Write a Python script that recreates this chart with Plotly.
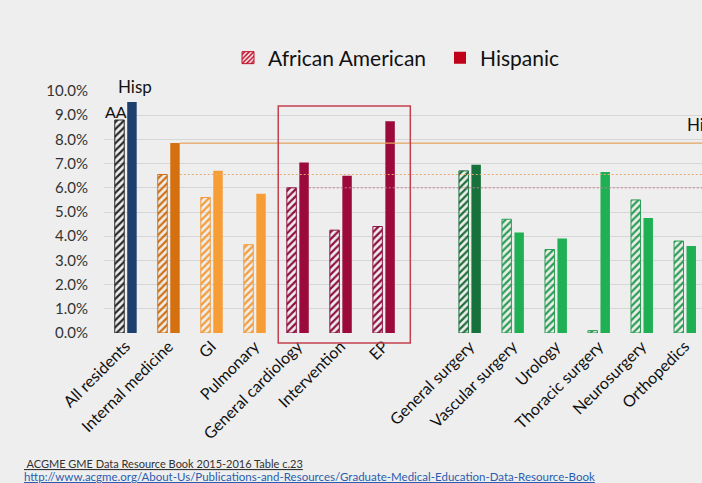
import plotly.graph_objects as go

categories = ["All residents", "Internal medicine", "GI", "Pulmonary", "General cardiology",
              "Intervention", "EP", " ", "General surgery", "Vascular surgery", "Urology",
              "Thoracic surgery", "Neurosurgery", "Orthopedics"]
aa_values = [8.8, 6.55, 5.6, 3.65, 6.0, 4.25, 4.4, None, 6.7, 4.7, 3.45, 0.1, 5.5, 3.8]
hisp_values = [9.55, 7.85, 6.7, 5.75, 7.05, 6.5, 8.75, None, 6.95, 4.15, 3.9, 6.65, 4.75, 3.6]
y_ticks = [0, 1, 2, 3, 4, 5, 6, 7, 8, 9, 10]
y_tick_labels = ["0.0%", "1.0%", "2.0%", "3.0%", "4.0%", "5.0%", "6.0%", "7.0%", "8.0%", "9.0%", "10.0%"]

hisp_colors = ["#1c3f6e", "#d4700f", "#f79d35", "#f79d35", "#9c0a3c", "#9c0a3c", "#9c0a3c",
               "#ffffff", "#16723a", "#1eb052", "#1eb052", "#1eb052", "#1eb052", "#1eb052"]
aa_fg = ["#2a2a2a", "#cf7013", "#f39c3a", "#f39c3a", "#8e1040", "#8e1040", "#8e1040",
         "#ffffff", "#1d6e3b", "#2c9e55", "#2c9e55", "#2c9e55", "#2c9e55", "#2c9e55"]

FONT = "Lato"
BG = "#eeeeee"

fig = go.Figure()
fig.add_trace(go.Bar(
    x=categories, y=aa_values, width=0.22, offset=-0.25, showlegend=False,
    marker=dict(color=aa_fg, line=dict(color=aa_fg, width=1),
                pattern=dict(shape="/", fillmode="replace", bgcolor="#fbfbfb", size=5, solidity=0.45)),
))
fig.add_trace(go.Bar(
    x=categories, y=hisp_values, width=0.22, offset=0.04, showlegend=False,
    marker=dict(color=hisp_colors, line=dict(width=0)),
))
# legend-only entries
fig.add_trace(go.Bar(
    x=[None], y=[None], name="African American",
    marker=dict(color="#c0102a", line=dict(color="#c0102a", width=1),
                pattern=dict(shape="/", fillmode="replace", bgcolor="#fdf3f3", size=4, solidity=0.5)),
))
fig.add_trace(go.Bar(
    x=[None], y=[None], name="Hispanic",
    marker=dict(color="#c00018", line=dict(width=0)),
))

# reference lines from data values
im = categories.index("Internal medicine")
gc = categories.index("General cardiology")
fig.add_shape(type="line", xref="x", yref="y", x0=im + 0.26, x1=14, y0=hisp_values[im], y1=hisp_values[im],
              line=dict(color="#e3a25e", width=1.2), layer="above")
fig.add_shape(type="line", xref="x", yref="y", x0=im + 0.26, x1=14, y0=aa_values[im], y1=aa_values[im],
              line=dict(color="#e6ad72", width=1, dash="2px,2px"), layer="above")
fig.add_shape(type="line", xref="x", yref="y", x0=gc + 0.26, x1=14, y0=aa_values[gc], y1=aa_values[gc],
              line=dict(color="#c77f96", width=1, dash="2px,2px"), layer="above")
# box around cardiology
ep = categories.index("EP")
fig.add_shape(type="rect", xref="x", yref="paper", x0=gc - 0.45, x1=ep + 0.62, y0=-0.041, y1=0.938,
              line=dict(color="#c4404c", width=1.5), fillcolor="rgba(0,0,0,0)", layer="above")

y_max = y_ticks[-1]
fig.add_annotation(x=categories[0], y=10.2 / y_max, xref="x", yref="paper", text="Hisp", showarrow=False,
                   xshift=9, yanchor="middle", font=dict(family=FONT, size=17, color="#111"))
fig.add_annotation(x=categories[0], y=9.15, xref="x", yref="y", text="AA", showarrow=False,
                   xshift=-10, yanchor="middle", font=dict(family=FONT, size=16, color="#111"))
fig.add_annotation(x=0.9716, y=0.86, xref="paper", yref="paper", text="Hisp", showarrow=False,
                   xanchor="left", yanchor="middle", font=dict(family=FONT, size=17, color="#111"))

W, H = 702, 483
L, R, T, B = 104, 0, 91, 150
pw, ph = W - L - R, H - T - B

fig.add_annotation(x=(22 - L) / pw, y=(H - B - 463) / ph, xref="paper", yref="paper",
                   text="<u> ACGME GME Data Resource Book 2015-2016 Table c.23</u>",
                   showarrow=False, xanchor="left", yanchor="middle",
                   font=dict(family=FONT, size=11, color="#333"))
fig.add_annotation(x=(22 - L) / pw, y=(H - B - 476.5) / ph, xref="paper", yref="paper",
                   text="<u>http://www.acgme.org/About-Us/Publications-and-Resources/Graduate-Medical-Education-Data-Resource-Book</u>",
                   showarrow=False, xanchor="left", yanchor="middle",
                   font=dict(family=FONT, size=11.5, color="#2a5db0"))

fig.update_layout(
    width=W, height=H, margin=dict(l=L, r=R, t=T, b=B),
    barmode="overlay",
    paper_bgcolor=BG, plot_bgcolor=BG,
    font=dict(family=FONT, color="#222"),
    legend=dict(orientation="h", x=(228 - L) / pw, xanchor="left", y=(H - B - 58) / ph, yanchor="middle",
                font=dict(family=FONT, size=21, color="#111"), bgcolor="rgba(0,0,0,0)",
                traceorder="normal", entrywidth=167, entrywidthmode="pixels"),
    xaxis=dict(type="category", categoryarray=categories, range=[-0.5, 13.4],
               tickangle=-45, tickfont=dict(family=FONT, size=16, color="#111"),
               showgrid=False, showline=False, ticks=""),
    yaxis=dict(range=[0, y_max], tickvals=y_ticks, ticktext=y_tick_labels,
               tickfont=dict(family=FONT, size=15, color="#333"), ticklabelstandoff=15,
               gridcolor="#d6d6d6", gridwidth=1, zeroline=False, showline=False, ticks=""),
)

fig.write_html("out.html")
